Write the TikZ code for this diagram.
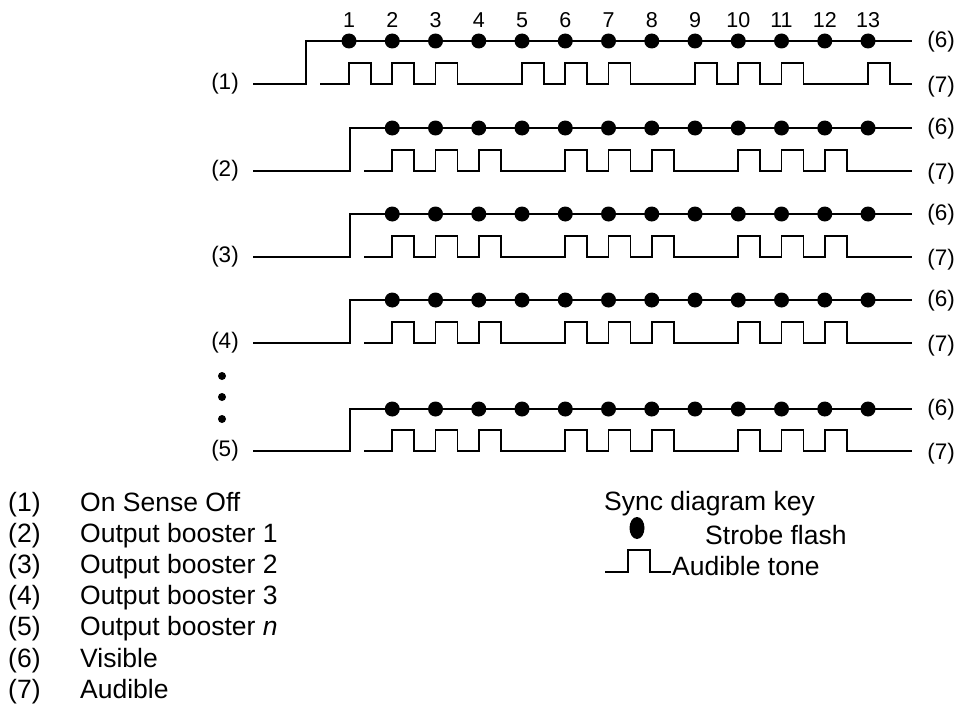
\documentclass[tikz,border=0pt]{standalone}
\usepackage{fontspec}
\setmainfont{Liberation Sans}
\usetikzlibrary{shapes.geometric}
\begin{document}
\begin{tikzpicture}[x=1pt,y=-1pt,
  sig/.style={line width=1.8pt, line join=miter},
  flash/.style={circle, fill=black, inner sep=0pt, minimum size=15pt},
  vdot/.style={circle, fill=black, inner sep=0pt, minimum size=8pt},
  lbl/.style={font=\fontsize{22.5}{22.5}\selectfont, inner sep=0pt},
  num/.style={font=\fontsize{21.5}{21.5}\selectfont, inner sep=0pt},
  leg/.style={font=\fontsize{26.5}{26.5}\selectfont, inner sep=0pt, anchor=base west}]
\useasboundingbox (0,0) rectangle (961,709);

% numbers on top
\foreach \k in {1,...,13} {
  \node[num] (n\k) at ({349+(\k-1)*43.25},20) {\k};
}

% rows: name / high y / low y / step x / pulse start / first dot / pulses
\foreach \r/\hy/\ly/\sx/\ps/\fd/\pl in {
   1/41/84/306/320/1/{1,2,3,5,6,7,9,10,11,13},
   2/128/171/350/364/2/{2,3,4,6,7,8,10,11,12},
   3/214/257/350/364/2/{2,3,4,6,7,8,10,11,12},
   4/300/343/350/364/2/{2,3,4,6,7,8,10,11,12},
   5/409/451/350/364/2/{2,3,4,6,7,8,10,11,12}} {
  \node[lbl] (r\r) at (225,\ly) {(\r)};
  \node[lbl] (v\r) at (941,{\hy+1}) {(6)};
  \node[lbl] (a\r) at (941,{\ly+3}) {(7)};
  \coordinate (s\r) at (253,\ly);
  \coordinate (e\r) at (912,\hy);
  \coordinate (p\r) at (\ps,\ly);
  \coordinate (q\r) at (912,\ly);
  \draw[sig] (s\r) -- (\sx,\ly) -- (\sx,\hy) -- (e\r);
  \draw[sig] (p\r) \foreach \k in \pl { -- ({349+(\k-1)*43.25},\ly) -- ++(0,-21) -- ++(22,0) -- ++(0,21) } -- (q\r);
  \foreach \k in {\fd,...,13} {
    \node[flash] (f\r-\k) at ({349+(\k-1)*43.25},\hy) {};
  }
}

% vertical ellipsis
\node[vdot] (d1) at (222,376) {};
\node[vdot] (d2) at (222,397) {};
\node[vdot] (d3) at (222,419) {};

% legend
\foreach \i/\t [count=\j from 0] in {1/On Sense Off, 2/Output booster 1, 3/Output booster 2,
   4/Output booster 3, 5/Output booster \textit{n}, 6/Visible, 7/Audible} {
  \node[leg] (l\i) at (8,{511+\j*31.2}) {(\i)};
  \node[leg] (t\i) at (80,{511+\j*31.2}) {\t};
}

% key
\node[leg] (key) at (604,510) {Sync diagram key};
\node[ellipse, fill=black, inner sep=0pt, minimum width=15pt, minimum height=22pt] (kf) at (637,528) {};
\node[leg] (ksf) at (705,544) {Strobe flash};
\node[leg] (kat) at (672,575) {Audible tone};
\coordinate (k0) at (605,572);
\coordinate (k1) at (671,572);
\draw[sig] (k0) -- (628,572) -- (628,550) -- (650,550) -- (650,572) -- (k1);
\end{tikzpicture}
\end{document}
